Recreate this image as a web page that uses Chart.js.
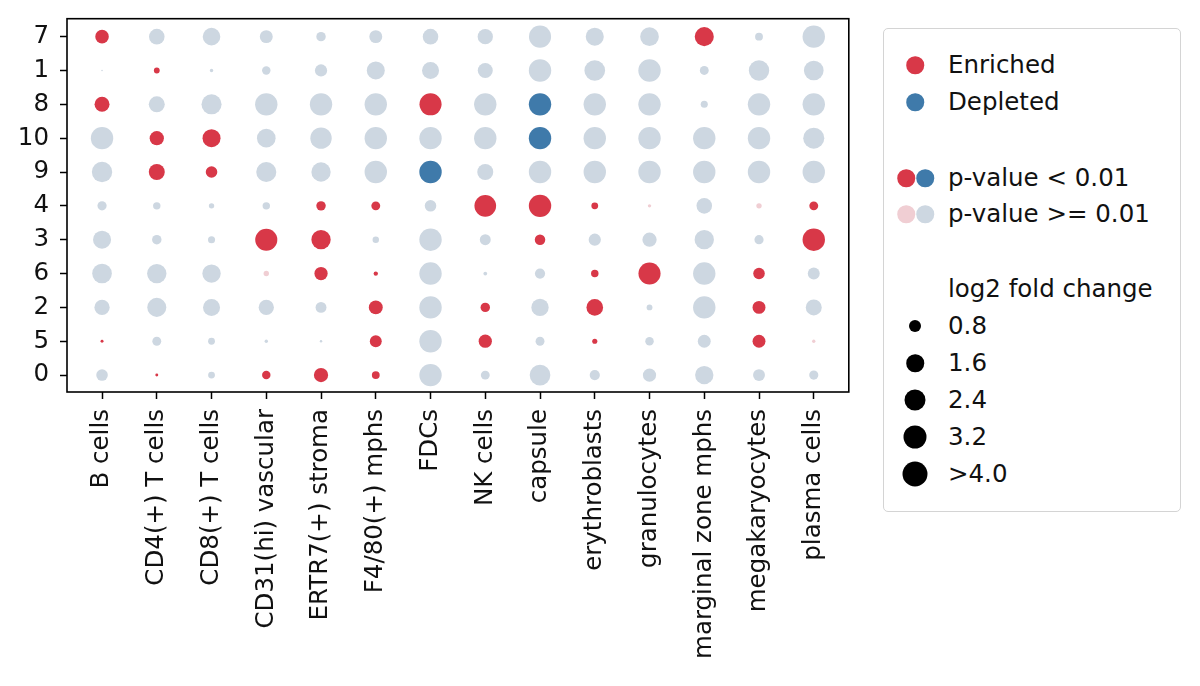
<!DOCTYPE html>
<html>
<head>
<meta charset="utf-8">
<script src="https://cdn.jsdelivr.net/npm/chart.js@4.4.1/dist/chart.umd.min.js"></script>
<style>
  html, body { margin: 0; padding: 0; background: #fff; }
  body { width: 1200px; height: 686px; position: relative; overflow: hidden; font-family: "DejaVu Sans", sans-serif; }
  #wrap { position: absolute; left: 0; top: -7px; width: 860px; height: 693px; }
  #legend { position: absolute; left: 883px; top: 28px; width: 298px; height: 484px;
            border: 1.5px solid #d4d4d4; border-radius: 5px; box-sizing: border-box; }
  .item { position: absolute; font-size: 24.5px; color: #111; line-height: 1; white-space: nowrap; transform: translateY(-50%); }
  .dot { position: absolute; border-radius: 50%; transform: translate(-50%, -50%); }
</style>
</head>
<body>
<div id="wrap"><canvas id="chart"></canvas></div>
<div id="legend"></div>
<script>
const cellTypes = ['B cells', 'CD4(+) T cells', 'CD8(+) T cells', 'CD31(hi) vascular', 'ERTR7(+) stroma',
    'F4/80(+) mphs', 'FDCs', 'NK cells', 'capsule', 'erythroblasts', 'granulocytes',
    'marginal zone mphs', 'megakaryocytes', 'plasma cells'];
const clusters = ['7', '1', '8', '10', '9', '4', '3', '6', '2', '5', '0'];

// signed log2 fold change per cluster, one value per cell type
const fc7  = [1.46, -1.93, -2.47, -1.33, -0.71, -1.33, -1.93, -1.86, -3.89, -2.59, -2.77, 2.89, -0.49, -4.1];
const fc1  = [-0.02, 0.27, -0.09, -0.57, -1.19, -2.59, -2.30, -1.79, -4.0, -3.41, -4.2, -0.63, -3.31, -3.08];
const fc8  = [1.79, -2.04, -3.21, -4.3, -4.3, -4.4, 3.89, -4.1, -4.3, -4.0, -4.3, -0.40, -4.1, -4.1];
const fc10 = [-4.1, 1.62, 2.59, -2.77, -3.64, -4.3, -4.1, -4.1, -4.3, -4.0, -4.3, -4.1, -4.1, -3.54];
const fc9  = [-3.31, 2.04, 1.06, -3.21, -2.98, -4.1, -4.3, -2.04, -4.0, -4.0, -4.3, -4.1, -4.1, -4.1];
const fc4  = [-0.67, -0.44, -0.23, -0.44, 0.71, 0.63, -1.06, 3.75, 4.5, 0.37, 0.09, -1.93, 0.23, 0.63];
const fc3  = [-2.59, -0.71, -0.40, 3.89, 2.98, -0.33, -4.1, -0.95, 0.88, -1.19, -1.62, -2.98, -0.67, 4.2];
const fc6  = [-3.08, -2.98, -2.68, 0.23, 1.40, 0.15, -4.1, -0.11, -0.83, 0.44, 3.89, -4.1, 1.06, -1.13];
const fc2  = [-1.86, -2.89, -2.30, -1.86, -0.95, 1.55, -4.1, 0.71, -2.39, 2.20, -0.27, -4.1, 1.33, -2.04];
const fc5  = [0.07, -0.63, -0.37, -0.09, -0.05, 1.13, -4.1, 1.40, -0.63, 0.21, -0.57, -1.33, 1.33, 0.09];
const fc0  = [-1.06, 0.07, -0.37, 0.57, 1.62, 0.49, -4.1, -0.63, -3.41, -0.83, -1.40, -2.68, -1.13, -0.67];

// 1 = p-value < 0.01
const sig7  = [1, 0, 0, 0, 0, 0, 0, 0, 0, 0, 0, 1, 0, 0];
const sig1  = [0, 1, 0, 0, 0, 0, 0, 0, 0, 0, 0, 0, 0, 0];
const sig8  = [1, 0, 0, 0, 0, 0, 1, 0, 1, 0, 0, 0, 0, 0];
const sig10 = [0, 1, 1, 0, 0, 0, 0, 0, 1, 0, 0, 0, 0, 0];
const sig9  = [0, 1, 1, 0, 0, 0, 1, 0, 0, 0, 0, 0, 0, 0];
const sig4  = [0, 0, 0, 0, 1, 1, 0, 1, 1, 1, 0, 0, 0, 1];
const sig3  = [0, 0, 0, 1, 1, 0, 0, 0, 1, 0, 0, 0, 0, 1];
const sig6  = [0, 0, 0, 0, 1, 1, 0, 0, 0, 1, 1, 0, 1, 0];
const sig2  = [0, 0, 0, 0, 0, 1, 0, 1, 0, 1, 0, 0, 1, 0];
const sig5  = [1, 0, 0, 0, 0, 1, 0, 1, 0, 1, 0, 0, 1, 0];
const sig0  = [0, 1, 0, 1, 1, 1, 0, 0, 0, 0, 0, 0, 0, 0];

const fcRows = [fc7, fc1, fc8, fc10, fc9, fc4, fc3, fc6, fc2, fc5, fc0];
const sigRows = [sig7, sig1, sig8, sig10, sig9, sig4, sig3, sig6, sig2, sig5, sig0];

const RED = 'rgb(216,56,72)';
const BLUE = 'rgb(63,122,170)';
const PINK = 'rgb(240,206,211)';
const GREY = 'rgb(205,215,225)';

const sizeLevels = ['0.8', '1.6', '2.4', '3.2', '>4.0'];
const sizeDiam = [12, 17.5, 21, 23, 25];

function dotRadius(v) {
    return 5.6 * Math.sqrt(Math.min(Math.abs(v), 4));
}
function dotColor(v, s) {
    if (v >= 0) return s ? RED : PINK;
    return s ? BLUE : GREY;
}

const points = [];
fcRows.forEach((row, yi) => {
    row.forEach((v, xi) => {
        points.push({ x: xi, y: yi, v: v, s: sigRows[yi][xi] });
    });
});

// full frame around the plot area
const frame = {
    id: 'frame',
    afterDraw(chart) {
        const { ctx, chartArea: a } = chart;
        ctx.save();
        ctx.strokeStyle = '#000';
        ctx.lineWidth = 1.6;
        ctx.strokeRect(a.left, a.top, a.right - a.left, a.bottom - a.top);
        ctx.restore();
    }
};

const tickFont = { family: 'DejaVu Sans', size: 24.5 };

new Chart(document.getElementById('chart').getContext('2d'), {
    type: 'scatter',
    data: {
        datasets: [{
            data: points,
            pointRadius: c => dotRadius(c.raw.v),
            pointHoverRadius: c => dotRadius(c.raw.v),
            backgroundColor: c => dotColor(c.raw.v, c.raw.s),
            borderWidth: 0,
            pointStyle: 'circle'
        }]
    },
    options: {
        responsive: true,
        maintainAspectRatio: false,
        animation: false,
        layout: { padding: { top: 11, right: 10, left: 0, bottom: 0 } },
        plugins: { legend: { display: false }, tooltip: { enabled: false } },
        scales: {
            x: {
                type: 'linear',
                min: -0.64,
                max: 13.64,
                afterBuildTicks: s => { s.ticks = cellTypes.map((_, i) => ({ value: i })); },
                afterFit: s => { s.height = 294; },
                ticks: {
                    autoSkip: false,
                    minRotation: 90,
                    maxRotation: 90,
                    padding: 10,
                    color: '#111',
                    font: tickFont,
                    callback: v => cellTypes[v]
                },
                grid: { drawOnChartArea: false, drawTicks: true, tickLength: 7, tickWidth: 1.5, tickColor: '#000' },
                border: { display: false }
            },
            y: {
                type: 'linear',
                reverse: true,
                min: -0.53,
                max: 10.5,
                afterBuildTicks: s => { s.ticks = clusters.map((_, i) => ({ value: i })); },
                afterFit: s => { s.width = 67; },
                ticks: {
                    autoSkip: false,
                    padding: 11,
                    color: '#111',
                    font: tickFont,
                    callback: v => clusters[v]
                },
                grid: { drawOnChartArea: false, drawTicks: true, tickLength: 7, tickWidth: 1.5, tickColor: '#000' },
                border: { display: false }
            }
        }
    },
    plugins: [frame]
});

// legend box
const legend = document.getElementById('legend');
const ox = 883, oy = 28;
function addDot(cx, cy, d, color) {
    const el = document.createElement('div');
    el.className = 'dot';
    el.style.left = (cx - ox) + 'px';
    el.style.top = (cy - oy) + 'px';
    el.style.width = d + 'px';
    el.style.height = d + 'px';
    el.style.background = color;
    legend.appendChild(el);
}
function addText(x, cy, text) {
    const el = document.createElement('div');
    el.className = 'item';
    el.style.left = (x - ox) + 'px';
    el.style.top = (cy - oy) + 'px';
    el.textContent = text;
    legend.appendChild(el);
}
addDot(914, 64, 17.5, RED);
addText(947, 64, 'Enriched');
addDot(914, 101, 17.5, BLUE);
addText(947, 101, 'Depleted');
addDot(905, 177, 17.5, RED);
addDot(924, 177, 17.5, BLUE);
addText(947, 177, 'p-value < 0.01');
addDot(905, 213, 17.5, PINK);
addDot(924, 213, 17.5, GREY);
addText(947, 213, 'p-value >= 0.01');
addText(947, 288, 'log2 fold change');
sizeLevels.forEach((lab, i) => {
    const cy = 325 + i * 37;
    addDot(914, cy, sizeDiam[i], '#000');
    addText(947, cy, lab);
});
</script>
</body>
</html>
